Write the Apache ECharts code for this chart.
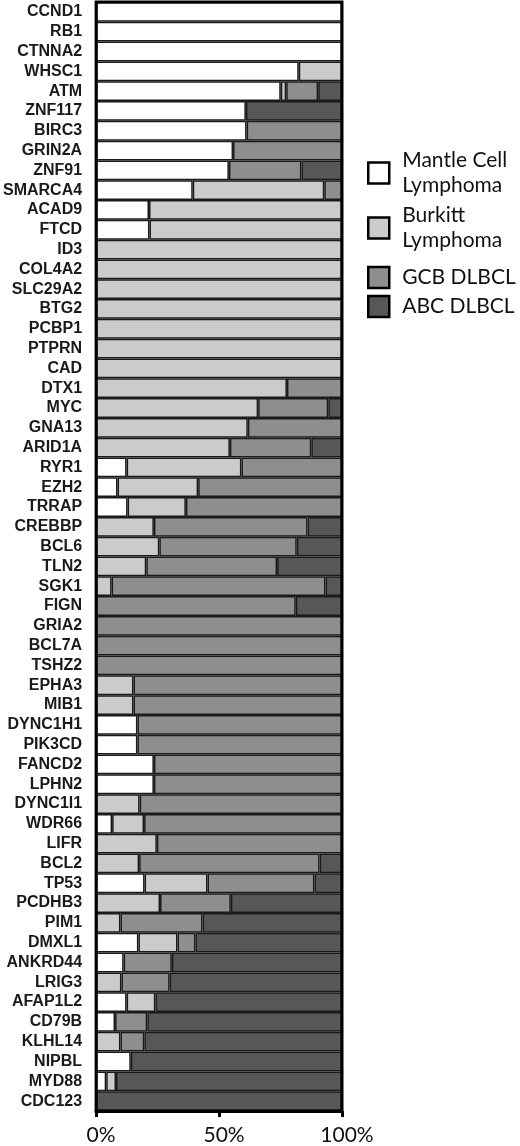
<!DOCTYPE html>
<html>
<head>
<meta charset="utf-8">
<script src="https://cdn.jsdelivr.net/npm/echarts@6/dist/echarts.min.js"></script>
<style>
html,body{margin:0;padding:0;background:#fff;}
#chart{width:520px;height:1146px;}
</style>
</head>
<body>
<div id="chart"></div>
<script>
var genes = ["CCND1","RB1","CTNNA2","WHSC1","ATM","ZNF117","BIRC3","GRIN2A","ZNF91","SMARCA4",
"ACAD9","FTCD","ID3","COL4A2","SLC29A2","BTG2","PCBP1","PTPRN","CAD","DTX1",
"MYC","GNA13","ARID1A","RYR1","EZH2","TRRAP","CREBBP","BCL6","TLN2","SGK1",
"FIGN","GRIA2","BCL7A","TSHZ2","EPHA3","MIB1","DYNC1H1","PIK3CD","FANCD2","LPHN2",
"DYNC1I1","WDR66","LIFR","BCL2","TP53","PCDHB3","PIM1","DMXL1","ANKRD44","LRIG3",
"AFAP1L2","CD79B","KLHL14","NIPBL","MYD88","CDC123"];

var mantleCell = [100,100,100,82.4,75.1,60.9,61.2,55.7,54.0,39.3,
21.5,21.7,0,0,0,0,0,0,0,0,
0,0,0,12.4,8.7,12.8,0,0,0,0,
0,0,0,0,0,0,16.8,16.8,23.5,23.5,
0,6.5,0,0,19.7,0,0,17.2,11.2,0,
12.4,7.7,0,14.1,4.1,0];

var burkitt = [0,0,0,17.6,2.2,0,0,0,0,53.5,
78.5,78.3,100,100,100,100,100,100,100,77.6,
65.9,61.7,54.4,46.7,32.8,23.7,23.5,25.7,20.4,6.3,
0,0,0,0,15.2,15.2,0,0,0,0,
17.7,13.0,24.7,17.5,25.6,26.0,9.9,15.9,0,10.3,
11.7,0,9.9,0,4.0,0];

var gcb = [0,0,0,0,13.0,0,38.8,44.3,29.5,7.2,
0,0,0,0,0,0,0,0,0,22.4,
28.5,38.3,33.1,40.9,58.5,63.5,62.5,55.9,53.2,87.0,
81.2,100,100,100,84.8,84.8,83.2,83.2,76.5,76.5,
82.3,80.5,75.3,73.4,43.5,28.8,33.4,7.3,19.6,19.6,
0,13.1,9.7,0,0,0];

var abc = [0,0,0,0,9.7,39.1,0,0,16.5,0,
0,0,0,0,0,0,0,0,0,0,
5.6,0,12.5,0,0,0,14.0,18.4,26.4,6.7,
18.8,0,0,0,0,0,0,0,0,0,
0,0,0,9.1,11.2,45.2,56.7,59.6,69.2,70.1,
75.9,79.2,80.4,85.9,91.9,100];

var seriesNames = ["Mantle Cell\nLymphoma","Burkitt\nLymphoma","GCB DLBCL","ABC DLBCL"];
var xTicks = [0,50,100];

var colors = ["#ffffff","#cbcbcb","#8e8e8e","#575757"];
var dataSets = [mantleCell, burkitt, gcb, abc];

function clean(arr){ return arr.map(function(v){ return v === 0 ? '-' : v; }); }

var series = dataSets.map(function(d, i){
  return {
    name: seriesNames[i],
    type: 'bar',
    stack: 'all',
    barWidth: '100%',
    barCategoryGap: '0%',
    data: clean(d),
    itemStyle: {color: colors[i], borderColor: '#1a1a1a', borderWidth: 1.5},
    emphasis: {disabled: true}
  };
});

var legendTops = [148, 203, 265, 294];
var legends = seriesNames.map(function(n, i){
  return {
    data: [n],
    left: 367,
    top: legendTops[i],
    padding: 0,
    orient: 'vertical',
    icon: 'rect',
    itemWidth: 21,
    itemHeight: 21,
    selectedMode: false,
    itemStyle: {borderColor: '#000', borderWidth: 2.5},
    textStyle: {fontFamily: 'Lato', fontSize: 21, lineHeight: 25, color: '#111', padding: [0,0,0,8]}
  };
});

var chart = echarts.init(document.getElementById('chart'), null, {renderer: 'canvas'});
chart.setOption({
  animation: false,
  backgroundColor: '#fff',
  grid: {left: 90, width: 252, top: 2, height: 1110.5, show: true, borderColor: '#000', borderWidth: 3, z: 10, backgroundColor: 'transparent'},
  legend: legends,
  xAxis: {
    type: 'value', min: xTicks[0], max: xTicks[xTicks.length-1], interval: 50,
    splitLine: {show: false},
    axisLine: {show: true, lineStyle: {color: '#000', width: 3}},
    axisTick: {show: true, length: 6, lineStyle: {color: '#000', width: 3}},
    axisLabel: {formatter: '{value}%', fontFamily: 'Lato', fontSize: 21, color: '#111', margin: 14, padding: [0,0,0,10]}
  },
  yAxis: {
    type: 'category', data: genes, inverse: true,
    axisLine: {show: false}, axisTick: {show: false},
    axisLabel: {fontFamily: 'Liberation Sans', fontWeight: 'bold', fontSize: 16, color: '#1a1a1a', margin: 14, interval: 0}
  },
  series: series
});
</script>
</body>
</html>
